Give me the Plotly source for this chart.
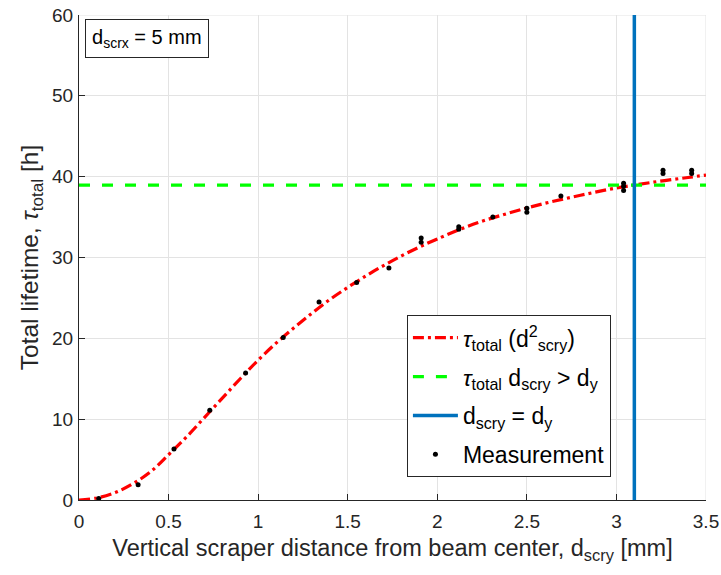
import plotly.graph_objects as go

# ---- data ----
fit_x = [0.0, 0.1, 0.2, 0.3, 0.4, 0.5, 0.6, 0.7, 0.8, 0.9, 1.0, 1.1, 1.2, 1.3, 1.4, 1.5,
         1.6, 1.7, 1.8, 1.9, 2.0, 2.2, 2.4, 2.6, 2.8, 3.0, 3.2, 3.4, 3.5]
fit_y = [0.0, 0.25, 0.9, 2.0, 3.5, 5.6, 7.8, 10.2, 12.6, 15.0, 17.3, 19.4, 21.3, 23.1, 24.8, 26.3,
         27.7, 29.0, 30.2, 31.3, 32.3, 34.1, 35.5, 36.7, 37.7, 38.6, 39.3, 39.9, 40.2]

meas_x = [0.11, 0.33, 0.53, 0.73, 0.93, 1.14, 1.34, 1.55, 1.73, 1.91, 1.91, 2.12, 2.12, 2.31,
          2.50, 2.50, 2.69, 3.04, 3.04, 3.04, 3.26, 3.26, 3.42, 3.42]
meas_y = [0.2, 1.9, 6.3, 11.1, 15.7, 20.1, 24.5, 26.9, 28.7, 31.9, 32.4, 33.5, 33.8, 35.0,
          35.6, 36.1, 37.6, 38.3, 38.8, 39.2, 40.4, 40.8, 40.4, 40.8]

tau_limit = 38.95      # tau_total for d_scry > d_y
d_y = 3.1              # d_scry = d_y
x_range = [0, 3.5]
y_range = [0, 60]
x_ticks = [0, 0.5, 1, 1.5, 2, 2.5, 3, 3.5]
y_ticks = [0, 10, 20, 30, 40, 50, 60]

FONT = "Liberation Sans, Arial, sans-serif"
AX = "#262626"
GRID = "#e3e3e3"

fig = go.Figure()

fig.add_trace(go.Scatter(
    x=fit_x, y=fit_y, mode="lines", line_shape="spline",
    line=dict(color="#ff0000", width=3.2, dash="11px,4px,3px,4px"),
    name="<i>τ</i><sub>total</sub> (d<sup>2</sup><sub>scry</sub>)",
    legendrank=1, legendgroup="a"))

fig.add_trace(go.Scatter(
    x=x_range, y=[tau_limit, tau_limit], mode="lines",
    line=dict(color="#00ff00", width=3.2, dash="11px,12px"),
    name="<i>τ</i><sub>total</sub> d<sub>scry</sub> > d<sub>y</sub>",
    legendrank=2, legendgroup="b"))

fig.add_trace(go.Scatter(
    x=[d_y, d_y], y=y_range, mode="lines",
    line=dict(color="#0072bd", width=3.5),
    name="d<sub>scry</sub> = d<sub>y</sub>",
    legendrank=3, legendgroup="c"))

fig.add_trace(go.Scatter(
    x=meas_x, y=meas_y, mode="markers",
    marker=dict(color="black", size=5),
    name="Measurement", legendrank=4, legendgroup="d"))

# light grid lines at the top/right boundaries (MATLAB style, no box)
fig.add_shape(type="line", xref="x", yref="y", x0=x_range[0], x1=x_range[1],
              y0=y_range[1], y1=y_range[1], line=dict(color=GRID, width=1), layer="below")
fig.add_shape(type="line", xref="x", yref="y", x0=x_range[1], x1=x_range[1],
              y0=y_range[0], y1=y_range[1], line=dict(color=GRID, width=1), layer="below")

fig.add_annotation(
    text="d<sub>scrx</sub> = 5 mm", xref="paper", yref="paper", x=0.009, y=0.991,
    xanchor="left", yanchor="top", showarrow=False, align="left",
    font=dict(family=FONT, size=20, color="black"),
    bordercolor=AX, borderwidth=1, borderpad=6, bgcolor="white")

fig.update_layout(
    width=721, height=575,
    margin=dict(l=79, r=15, t=15, b=75),
    paper_bgcolor="white", plot_bgcolor="white",
    font=dict(family=FONT, color=AX),
    showlegend=True,
    legend=dict(x=0.523, y=0.381, xanchor="left", yanchor="top",
                bgcolor="white", bordercolor=AX, borderwidth=1,
                font=dict(family=FONT, size=23, color="black"),
                tracegroupgap=6, itemwidth=45),
)

fig.update_xaxes(
    range=x_range, tickvals=x_ticks, ticktext=[f"{v:g}" for v in x_ticks],
    showgrid=True, gridcolor=GRID, gridwidth=1, zeroline=False,
    showline=True, linecolor=AX, linewidth=1, automargin=False,
    ticks="inside", ticklen=6, tickcolor=AX, ticklabelstandoff=4,
    tickfont=dict(family=FONT, size=19, color=AX),
    title=dict(text="Vertical scraper distance from beam center, d<sub>scry</sub> [mm]",
               font=dict(family=FONT, size=23.5, color=AX), standoff=8))

fig.update_yaxes(
    range=y_range, tickvals=y_ticks, ticktext=[str(v) for v in y_ticks],
    showgrid=True, gridcolor=GRID, gridwidth=1, zeroline=False,
    showline=True, linecolor=AX, linewidth=1, automargin=False,
    ticks="inside", ticklen=6, tickcolor=AX, ticklabelstandoff=1,
    tickfont=dict(family=FONT, size=19, color=AX),
    title=dict(text="Total lifetime, <i>τ</i><sub>total</sub> [h]",
               font=dict(family=FONT, size=24.5, color=AX), standoff=6))

fig.write_html("out.html")
